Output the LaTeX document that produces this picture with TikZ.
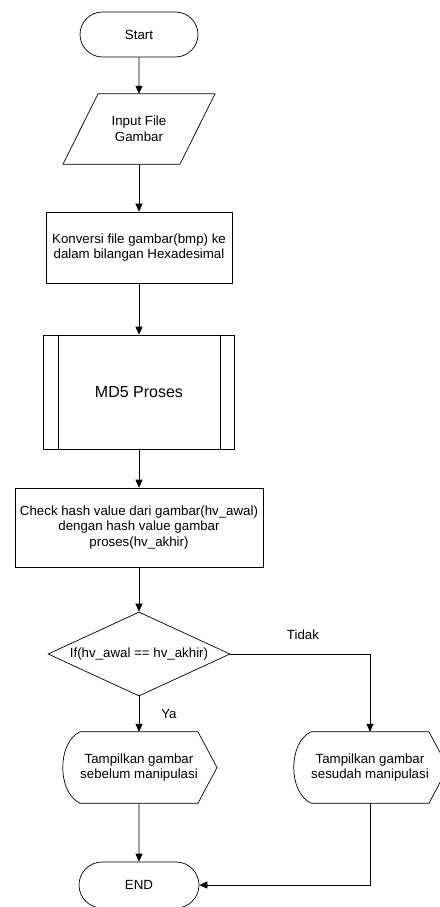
\documentclass[tikz,border=0pt]{standalone}
\usepackage{fontspec}
\setmainfont{Liberation Sans}
\usetikzlibrary{arrows.meta,shapes.geometric,shapes.misc,calc}
\begin{document}
\begin{tikzpicture}[x=1pt,y=-1pt,
  every node/.style={font=\fontsize{13.3}{15.8}\selectfont, inner sep=0pt},
  shp/.style={draw, line width=0.7pt},
  term/.style={shp, rounded rectangle, minimum width=118pt, minimum height=45pt},
  procbox/.style={shp, rectangle, align=center},
  blank/.style={rectangle, align=center},
  arr/.style={line width=0.7pt, -{Triangle[length=8pt,width=7pt]}},
  lbl/.style={font=\fontsize{13.3}{15.8}\selectfont}
]
\useasboundingbox (0,0) rectangle (439,907);
\fill[white] (0,0) rectangle (439,907);

\node[term] (start) at (139,34.5) {Start};

\node[blank, minimum width=152pt, minimum height=70pt] (input) at (139,129) {Input File\\Gambar};
\draw[shp] ([xshift=-41pt]input.north) -- ([xshift=76pt]input.north) -- ([xshift=41pt]input.south) -- ([xshift=-76pt]input.south) -- cycle;

\node[procbox, minimum width=186pt, minimum height=71pt] (konv) at (139,247.5) {Konversi file gambar(bmp) ke\\dalam bilangan Hexadesimal};

\node[procbox, minimum width=191pt, minimum height=114pt, font=\fontsize{16}{19}\selectfont] (md5) at (139,392) {MD5 Proses};
\draw[shp] ([xshift=15pt]md5.north west) -- ([xshift=15pt]md5.south west);
\draw[shp] ([xshift=-15pt]md5.north east) -- ([xshift=-15pt]md5.south east);

\node[procbox, minimum width=248pt, minimum height=79pt] (check) at (139,527.5) {Check hash value dari gambar(hv\_awal)\\dengan hash value gambar\\proses(hv\_akhir)};

\node[shp, diamond, aspect=2.17, minimum width=182pt, minimum height=84pt] (dec) at (139,654) {If(hv\_awal == hv\_akhir)};

\node[blank, minimum width=118pt, minimum height=71pt] (disp1) at (139,767.5) {Tampilkan gambar\\sebelum manipulasi};
\draw[shp] ([xshift=-59pt]disp1.north) -- ([xshift=59pt]disp1.north) -- ([xshift=78pt]disp1.center) -- ([xshift=59pt]disp1.south) -- ([xshift=-59pt]disp1.south) .. controls ([xshift=-82pt,yshift=-25pt]disp1.center) and ([xshift=-82pt,yshift=25pt]disp1.center) .. cycle;

\node[blank, minimum width=118pt, minimum height=71pt] (disp2) at (370,767.5) {Tampilkan gambar\\sesudah manipulasi};
\draw[shp] ([xshift=-59pt]disp2.north) -- ([xshift=59pt]disp2.north) -- ([xshift=78pt]disp2.center) -- ([xshift=59pt]disp2.south) -- ([xshift=-59pt]disp2.south) .. controls ([xshift=-82pt,yshift=-25pt]disp2.center) and ([xshift=-82pt,yshift=25pt]disp2.center) .. cycle;

\node[term, minimum width=120pt, minimum height=46pt] (end) at (139,885) {END};

\draw[arr] (start) -- (input);
\draw[arr] (input) -- (konv);
\draw[arr] (konv) -- (md5);
\draw[arr] (md5) -- (check);
\draw[arr] (check) -- (dec);
\draw[arr] (dec) -- node[lbl, anchor=west, xshift=22pt]{Ya} (disp1);
\draw[arr] (dec.east) -| node[lbl, pos=0.26, anchor=south, yshift=14pt]{Tidak} (disp2.north);
\draw[arr] (disp1) -- (end);
\draw[arr] (disp2.south) |- (end.east);
\end{tikzpicture}
\end{document}
